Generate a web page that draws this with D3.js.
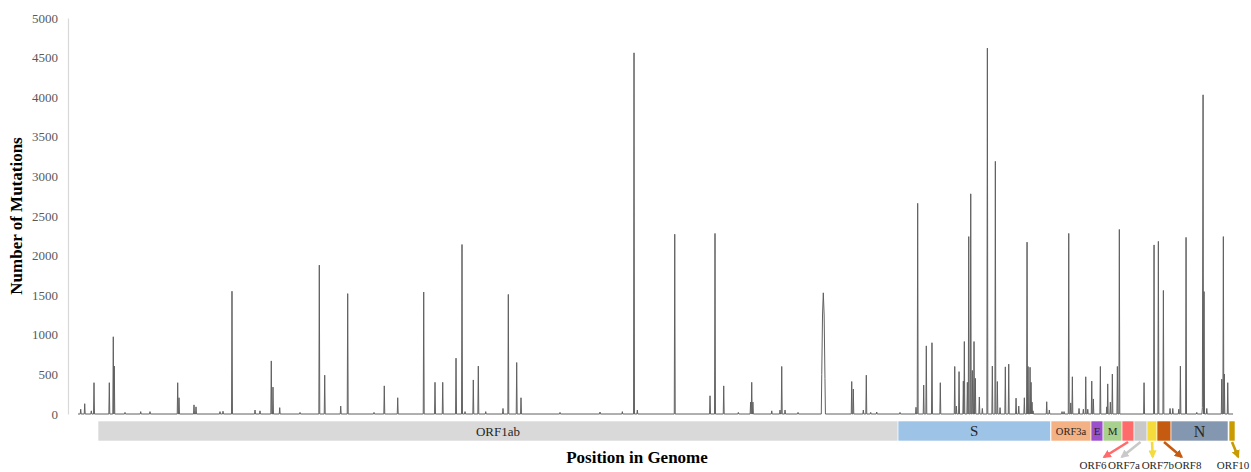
<!DOCTYPE html>
<html><head><meta charset="utf-8">
<script src="https://cdn.jsdelivr.net/npm/d3@7"></script>
<style>body{margin:0;background:#fff}svg{display:block}</style>
</head><body><svg id="c" width="1251" height="472"></svg>
<script>
// ---- data ----
const yTicks = [0,500,1000,1500,2000,2500,3000,3500,4000,4500,5000];
const genomeLength = 29950;
const peakPos = [70,174,345,415,812,915,941,1219,1626,1867,2585,2619,3008,3060,3682,3760,3993,4590,4719,5012,5056,5230,5757,6257,6397,6812,6993,7675,7942,8290,8964,9257,9457,9802,9957,10035,10250,10380,10572,11020,11158,11375,11487,12498,13535,14114,14417,14503,15473,16388,16517,16743,17122,17440,17469,17500,17988,18203,18247,18333,18670,19285,19305,19325,19347,19368,20062,20103,20363,20440,20554,20710,21314,21729,21772,21928,21996,22143,22359,22733,22775,22845,22956,22982,23060,23096,23148,23189,23233,23267,23371,23449,23579,23708,23786,23838,23908,24045,24133,24323,24393,24538,24608,24634,24686,24712,24737,24763,25118,25186,25515,25567,25689,25741,25783,25956,26068,26130,26182,26286,26327,26509,26675,26700,26768,26820,26950,27001,27642,27901,28013,28143,28316,28387,28542,28584,28731,29009,29154,29172,29198,29268,29657,29698,29724,29812];
const peakCount = [60,130,40,395,395,975,605,20,30,30,395,205,115,90,30,35,1550,50,40,670,340,80,20,1880,490,100,1520,20,355,205,1540,400,400,705,2140,30,430,605,30,70,1510,650,205,20,25,30,4560,50,2270,230,2280,355,20,150,400,150,40,50,600,50,20,500,1250,1530,1250,450,410,315,50,490,20,25,20,85,2660,365,860,900,395,600,100,535,415,915,400,2240,2780,550,915,450,215,70,4620,605,3190,410,80,595,630,200,100,205,2170,600,590,400,150,40,155,50,30,30,2280,140,470,70,60,470,60,415,190,600,90,380,150,505,600,2330,395,2135,2180,1560,70,70,60,605,2230,20,80,4030,1545,70,440,2240,505,395];
const geneNames = ["ORF1ab","S","ORF3a","E","M","ORF6","ORF7a","ORF7b","ORF8","N","ORF10"];
const geneStart = [519,21263,25230,26267,26578,27071,27382,27719,27978,28341,29845];
const geneEnd   = [21263,25217,26267,26578,27071,27382,27719,27978,28341,29819,30000];
const geneColors = ["#d9d9d9","#9dc3e6","#f4b183","#9b4fcb","#a9d18e","#ff6b6b","#c9c9c9","#f5dc3c","#c55a11","#8497b0","#c89b00"];
const geneLabelSize = [13,15,10.5,11,11,0,0,0,0,16,0];
const arrowGenes = ["ORF6","ORF7a","ORF7b","ORF8","ORF10"];
const arrowTipPos = [26604,27063,27867,28619,30083];
const arrowLabelPos = [26320,27122,28000,28782,29950];

// ---- layout ----
const svg = d3.select("#c");
const x = d3.scaleLinear().domain([0,30000]).range([78,1235]);
const y = d3.scaleLinear().domain([0,5000]).range([414,18]);
const serif = "'Liberation Serif','Times New Roman',serif";

// y axis
const yAxis = d3.axisLeft(y).tickValues(yTicks).tickSize(0).tickPadding(10).tickFormat(d3.format("d"));
const ga = svg.append("g").attr("transform","translate(68,0)").call(yAxis);
ga.select(".domain").attr("stroke","#d9d9d9").attr("stroke-width",1.2);
ga.selectAll("text").attr("font-family",serif).attr("font-size",13).attr("fill","#595959");

// build line series: peaks with zero baseline between separated peaks
const delta = 12;
const pts = [[0,0]];
for (let i=0;i<peakPos.length;i++){
  const p = peakPos[i];
  const prev = i>0 ? peakPos[i-1] : -1e9;
  if (p - prev > 2*delta) pts.push([p-delta,0]);
  pts.push([p,peakCount[i]]);
  const next = i<peakPos.length-1 ? peakPos[i+1] : 1e9;
  if (next - p > 2*delta) pts.push([p+delta,0]);
}
pts.push([genomeLength,0]);
svg.append("path").datum(pts)
  .attr("fill","none").attr("stroke","#606060").attr("stroke-width",1)
  .attr("stroke-linejoin","round")
  .attr("d", d3.line().x(d=>x(d[0])).y(d=>y(d[1])));

// gene bar
const genes = geneNames.map((n,i)=>({n,s:geneStart[i],e:geneEnd[i],c:geneColors[i],fs:geneLabelSize[i]}));
const gb = svg.append("g");
gb.selectAll("rect").data(genes).join("rect")
  .attr("x",d=>x(d.s)).attr("width",d=>x(d.e)-x(d.s))
  .attr("y",421).attr("height",20)
  .attr("fill",d=>d.c).attr("stroke","#fff").attr("stroke-width",0.6);
gb.selectAll("text").data(genes.filter(d=>d.fs>0)).join("text")
  .attr("x",d=>(x(d.s)+x(d.e))/2).attr("y",431)
  .attr("dy","0.35em").attr("text-anchor","middle")
  .attr("font-family",serif).attr("font-size",d=>d.fs).attr("fill","#262626")
  .text(d=>d.n);

// arrows
const defs = svg.append("defs");
const arrows = arrowGenes.map((n,i)=>{
  const gi = geneNames.indexOf(n);
  return {n, c:geneColors[gi], from:(geneStart[gi]+geneEnd[gi])/2, tip:arrowTipPos[i], lab:arrowLabelPos[i], id:"ah"+i};
});
arrows.forEach(a=>{
  defs.append("marker").attr("id",a.id).attr("viewBox","0 0 10 10")
    .attr("refX",8).attr("refY",5).attr("markerWidth",3.2).attr("markerHeight",3.2)
    .attr("orient","auto").attr("markerUnits","strokeWidth")
    .append("path").attr("d","M0,0L10,5L0,10Z").attr("fill",a.c);
});
const ag = svg.append("g");
ag.selectAll("line").data(arrows).join("line")
  .attr("x1",d=>x(d.from)).attr("y1",442)
  .attr("x2",d=>x(d.tip)).attr("y2",457)
  .attr("stroke",d=>d.c).attr("stroke-width",2.6)
  .attr("marker-end",d=>`url(#${d.id})`);
ag.selectAll("text").data(arrows).join("text")
  .attr("x",d=>x(d.lab)).attr("y",469).attr("text-anchor","middle")
  .attr("font-family",serif).attr("font-size",11).attr("fill","#262626")
  .text(d=>d.n);

// titles
svg.append("text").attr("x",637).attr("y",463).attr("text-anchor","middle")
  .attr("font-family",serif).attr("font-weight","bold").attr("font-size",17).attr("fill","#000")
  .text("Position in Genome");
svg.append("text").attr("transform","translate(22,216) rotate(-90)").attr("text-anchor","middle")
  .attr("font-family",serif).attr("font-weight","bold").attr("font-size",17).attr("fill","#000")
  .text("Number of Mutations");
</script></body></html>
